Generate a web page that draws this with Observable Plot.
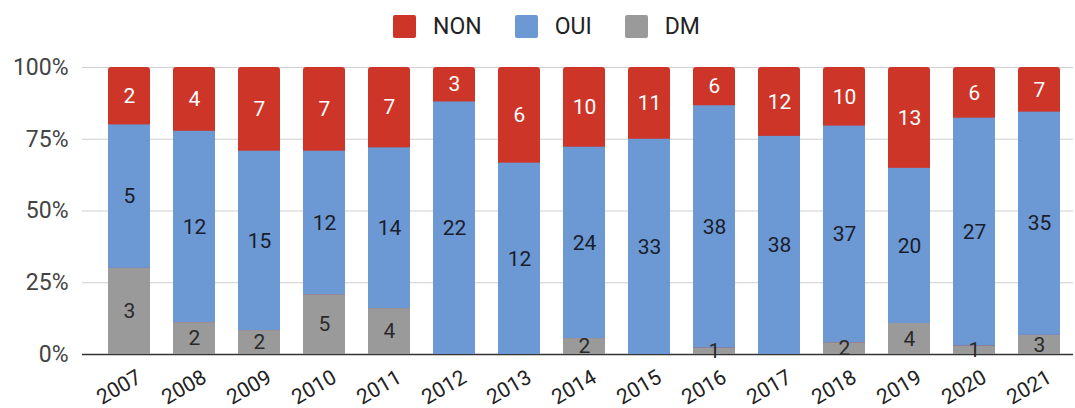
<!DOCTYPE html>
<html>
<head>
<meta charset="utf-8">
<script src="https://cdn.jsdelivr.net/npm/d3@7"></script>
<script src="https://cdn.jsdelivr.net/npm/@observablehq/plot@0.6"></script>
<style>
  body { margin: 0; background: #fff; font-family: Roboto, "Noto Sans", sans-serif; }
  #legend { height: 52px; display: flex; justify-content: center; align-items: center; gap: 33px; font-size: 23px; color: #222; padding-left: 18px; box-sizing: border-box; }
  #legend .item { display: flex; align-items: center; gap: 17px; }
  #legend .sw { width: 23px; height: 23px; border-radius: 2px; }
  #chart svg { display: block; }
</style>
</head>
<body>
<div id="legend"></div>
<div id="chart"></div>
<script>
const years = ["2007","2008","2009","2010","2011","2012","2013","2014","2015","2016","2017","2018","2019","2020","2021"];
const nonValues = [2, 4, 7, 7, 7, 3, 6, 10, 11, 6, 12, 10, 13, 6, 7];
const ouiValues = [5, 12, 15, 12, 14, 22, 12, 24, 33, 38, 38, 37, 20, 27, 35];
const dmValues  = [3, 2, 2, 5, 4, 0, 0, 2, 0, 1, 0, 2, 4, 1, 3];
const seriesNames = ["NON", "OUI", "DM"];
const seriesColors = ["#cc3527", "#6c98d3", "#9a9a9a"];
const labelColors = ["#ffffff", "#1a1d2c", "#2a2a2a"];
const yTicks = [0, 0.25, 0.5, 0.75, 1];

const rows = [];
years.forEach((yr, i) => {
  rows.push({year: yr, series: "DM", value: dmValues[i]});
  rows.push({year: yr, series: "OUI", value: ouiValues[i]});
  rows.push({year: yr, series: "NON", value: nonValues[i]});
});
const totals = years.map((yr, i) => ({year: yr, total: nonValues[i] + ouiValues[i] + dmValues[i]}));
const labelRows = rows.filter(d => d.value > 0);
const stackOrder = ["DM", "OUI", "NON"];

const legend = document.getElementById("legend");
seriesNames.forEach((s, i) => {
  const it = document.createElement("div");
  it.className = "item";
  it.innerHTML = `<span class="sw" style="background:${seriesColors[i]}"></span><span>${s}</span>`;
  legend.appendChild(it);
});

const plot = Plot.plot({
  width: 1075,
  height: 356,
  marginTop: 15,
  marginBottom: 54,
  marginLeft: 82,
  marginRight: 2,
  style: {fontFamily: "Roboto, sans-serif", fontSize: "20px", color: "#222"},
  x: {domain: years, padding: 0.36, paddingOuter: 0.244, align: 0.66, label: null},
  y: {domain: [0, 1], label: null},
  color: {domain: seriesNames, range: seriesColors},
  marks: [
    Plot.ruleY(yTicks.filter(t => t > 0), {stroke: "#cfcfcf", strokeWidth: 1}),
    Plot.ruleY([0], {stroke: "#333", strokeWidth: 1.5}),
    Plot.axisY({ticks: yTicks, tickFormat: d3.format(".0%"), tickSize: 0, tickPadding: 14, fontSize: 23, color: "#444", label: null}),
    Plot.axisX({tickSize: 0, tickRotate: -30, tickPadding: 21, dx: 10, fontSize: 21, label: null}),
    // rounded backdrop showing the NON colour at the top of each bar
    Plot.barY(totals, Plot.stackY({offset: "normalize", x: "year", y: "total", fill: seriesColors[0], rx: 3})),
    Plot.barY(rows, Plot.stackY({
      offset: "normalize", order: stackOrder, x: "year", y: "value", fill: "series",
      fillOpacity: d => d.series === "NON" ? 0 : 1
    })),
    Plot.text(labelRows, Plot.stackY({
      offset: "normalize", order: stackOrder, x: "year", y: "value", text: "value",
      fill: d => labelColors[seriesNames.indexOf(d.series)],
      fontSize: 21
    }))
  ]
});
document.getElementById("chart").appendChild(plot);
</script>
</body>
</html>
